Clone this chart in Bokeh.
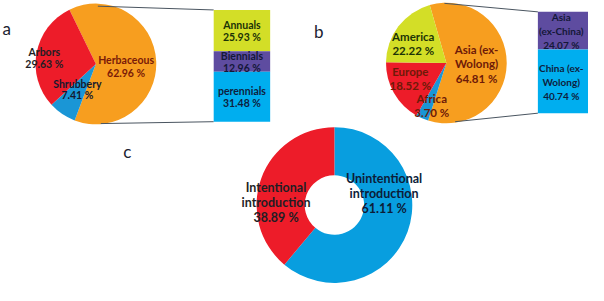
import numpy as np
from bokeh.plotting import figure
from bokeh.models import Range1d, ColumnDataSource
from bokeh.core.properties import value
from bokeh.embed import file_html
from bokeh.resources import INLINE

# ---------------- data ----------------
# panel a: growth form (pie) and life span of herbaceous (bar)
a_labels = ["Herbaceous", "Shrubbery", "Arbors"]
a_values = [62.96, 7.41, 29.63]
a_colors = ["#F79E1F", "#1A96D6", "#ED1C29"]
a_text_colors = ["#7A1A08", "#14182E", "#1E1E24"]

a_bar_labels = ["Annuals", "Biennials", "perennials"]
a_bar_values = [25.93, 12.96, 31.48]
a_bar_colors = ["#D3DE27", "#5E4CA0", "#00AEEF"]
a_bar_text_colors = ["#1B3306", "#141838", "#0E1E40"]

# panel b: origin (pie) and Asian origin split (bar)
b_labels = ["Asia (ex-\nWolong)", "Africa", "Europe", "America"]
b_values = [64.81, 3.70, 18.52, 22.22]
b_colors = ["#F79E1F", "#1A96D6", "#ED1C29", "#D3DE27"]
b_text_colors = ["#6E1A08", "#6E1A08", "#6E1A08", "#1B3306"]

b_bar_labels = ["Asia\n(ex-China)", "China (ex-\nWolong)"]
b_bar_values = [24.07, 40.74]
b_bar_colors = ["#5E4CA0", "#00AEEF"]
b_bar_text_colors = ["#141838", "#0E1E40"]

# panel c: introduction pathway (donut)
c_labels = ["Unintentional\nintroduction", "Intentional\nintroduction"]
c_values = [61.11, 38.89]
c_colors = ["#089EDF", "#ED1C29"]
c_text_colors = ["#0C1C38", "#1E1E24"]

panel_letters = ["a", "b", "c"]

# ---------------- layout (reference pixel coordinates, y downward) ----------------
W, H = 604, 301
FONT = "Lato"

p = figure(width=588, height=285, x_range=Range1d(0, W), y_range=Range1d(0, H),
           output_backend="svg", toolbar_location=None, min_border=0)
p.axis.visible = False
p.grid.visible = False
p.outline_line_color = None
p.background_fill_color = "white"
p.border_fill_color = "white"


def Y(py):
    return H - py


def draw_pie(cx, cy, r, start_deg, values, colors, inner=None):
    vals = np.array(values, dtype=float)
    fr = vals / vals.sum()
    ang = np.radians(360 * fr)
    ends = np.radians(start_deg) - np.concatenate([[0], np.cumsum(ang)[:-1]])
    starts = ends - ang
    src = ColumnDataSource(dict(x=[cx] * len(vals), y=[Y(cy)] * len(vals),
                                s=starts, e=ends, c=colors))
    if inner is None:
        p.wedge(x="x", y="y", radius=r, start_angle="s", end_angle="e",
                fill_color="c", line_color=None, source=src)
    else:
        p.annular_wedge(x="x", y="y", inner_radius=inner, outer_radius=r,
                        start_angle="s", end_angle="e",
                        fill_color="c", line_color=None, source=src)


def draw_bar(x0, x1, top, bottom, values, colors):
    vals = np.array(values, dtype=float)
    fr = vals / vals.sum()
    edges = top + (bottom - top) * np.concatenate([[0], np.cumsum(fr)])
    src = ColumnDataSource(dict(l=[x0] * len(vals), r=[x1] * len(vals),
                                t=[Y(v) for v in edges[:-1]],
                                b=[Y(v) for v in edges[1:]], c=colors))
    p.quad(left="l", right="r", top="t", bottom="b", fill_color="c",
           line_color=None, source=src)
    return (edges[:-1] + edges[1:]) / 2


def label(x, y, lines, color, size, spacing, bold=True):
    n = len(lines)
    ys = [y + (i - (n - 1) / 2) * spacing for i in range(n)]
    p.text(x=[x] * n, y=[Y(v) for v in ys], text=lines,
           text_font=value(FONT), text_font_size=f"{size}px",
           text_font_style="bold" if bold else "normal",
           text_color=color, text_align="center", text_baseline="middle")


def pct(v):
    return f"{v:.2f} %"


# ---- panel a ----
draw_pie(98, 67, 62, 116, a_values, a_colors)
p.segment(x0=[100, 103], y0=[Y(6), Y(130)], x1=[219, 219], y1=[Y(10), Y(128)],
          line_color="#4A5560", line_width=1)
a_mid = draw_bar(219, 277, 10, 128, a_bar_values, a_bar_colors)
a_pos = [(129, 70), (79, 94), (45, 60.5)]
a_gap = [14, 12, 13]
for (x, y), lab, v, col, g in zip(a_pos, a_labels, a_values, a_text_colors, a_gap):
    label(x, y, [lab, pct(v)], col, 10.5, g)
for m, lab, v, col in zip(a_mid, a_bar_labels, a_bar_values, a_bar_text_colors):
    label(248, m + 0.5, [lab, pct(v)], col, 10.5, 12.5)

# ---- panel b ----
draw_pie(458, 66, 62, 106, b_values, b_colors)
p.segment(x0=[456, 467], y0=[Y(3), Y(128)], x1=[552, 552], y1=[Y(12), Y(119)],
          line_color="#4A5560", line_width=1)
b_mid = draw_bar(552, 640, 12, 119, b_bar_values, b_bar_colors)
b_pos = [(489, 67), (443, 110.5), (421, 82.5), (424, 45)]
for (x, y), lab, v, col in zip(b_pos, b_labels, b_values, b_text_colors):
    label(x, y, lab.split("\n") + [pct(v)], col, 11.5, 15)
for m, lab, v, col in zip(b_mid, b_bar_labels, b_bar_values, b_bar_text_colors):
    label(576, m + 0.5, lab.split("\n") + [pct(v)], col, 10, 14.5)

# ---- panel c ----
draw_pie(343, 216, 80, 90, c_values, c_colors, inner=30.5)
c_pos = [(394, 204), (283, 213.5)]
for (x, y), lab, v, col in zip(c_pos, c_labels, c_values, c_text_colors):
    label(x, y, lab.split("\n") + [pct(v)], col, 12.5, 15.5)

# ---- panel letters ----
p.text(x=[2, 322, 126], y=[Y(30), Y(33), Y(160)], text=panel_letters,
       text_font=value(FONT), text_font_size="17px", text_color="#1A2230",
       text_align="left", text_baseline="alphabetic")

open("out.html", "w").write(file_html(p, INLINE))
